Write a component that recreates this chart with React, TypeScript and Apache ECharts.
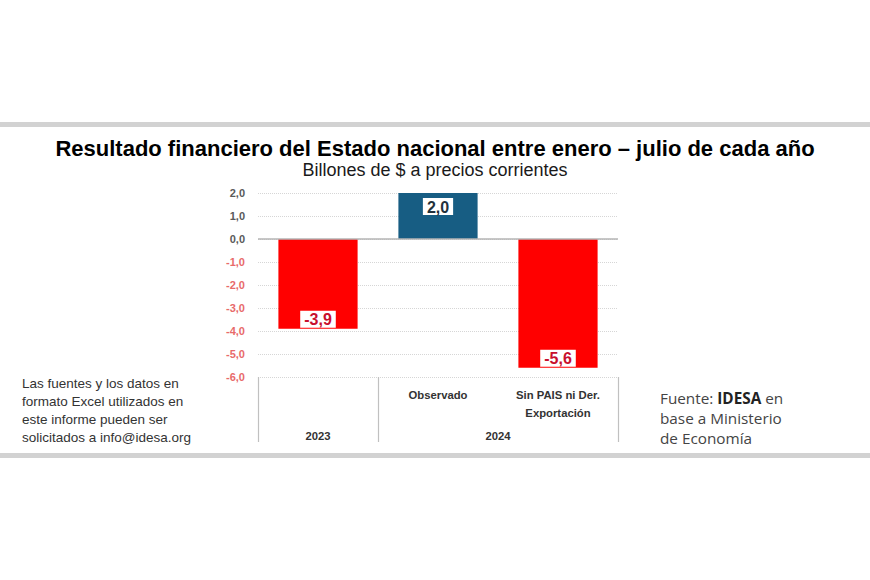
import React, { useEffect, useRef } from "react";
import * as echarts from "echarts";

const categories = ["", "Observado", "Sin PAIS ni Der.\nExportación"];
const values = [-3.9, 2.0, -5.6];
const barColors = ["#ff0000", "#175d83", "#ff0000"];
const labelColors = ["#c8102e", "#23313c", "#c8102e"];
const groupPoints = ["", "2023", "", "", "2024", "", ""];
const groupTickIdx = [0, 2, 6];
const zeroLine = [0];

const titleText = "Resultado financiero del Estado nacional entre enero – julio de cada año";
const subtitleText = "Billones de $ a precios corrientes";
const leftNote = "Las fuentes y los datos en\nformato Excel utilizados en\neste informe pueden ser\nsolicitados a info@idesa.org";

const fmt = (v: number) => v.toFixed(1).replace(".", ",");

export default function App() {
  const ref = useRef<HTMLDivElement>(null);
  useEffect(() => {
    if (!ref.current) return;
    const chart = echarts.init(ref.current, null, { renderer: "svg" });
    chart.setOption({
      animation: false,
      backgroundColor: "#ffffff",
      title: {
        left: "center",
        top: 132,
        text: titleText,
        textStyle: { fontFamily: "Liberation Sans", fontSize: 22, fontWeight: "bold", color: "#000" },
        subtext: subtitleText,
        subtextStyle: { fontFamily: "Liberation Sans", fontSize: 18, color: "#1a1a1a" },
        itemGap: 2,
      },
      grid: { left: 258, right: 252, top: 193, bottom: 203 },
      xAxis: [
        {
          type: "category",
          data: categories,
          position: "bottom",
          axisLine: { show: false },
          axisTick: { show: false },
          axisLabel: {
            interval: 0,
            margin: 9,
            verticalAlign: "top",
            fontFamily: "Liberation Sans",
            fontSize: 11.3,
            fontWeight: "bold",
            color: "#333",
            lineHeight: 18,
          },
        },
        {
          type: "category",
          data: groupPoints,
          position: "bottom",
          boundaryGap: false,
          axisLine: { show: false },
          axisTick: {
            show: true,
            interval: (i: number) => groupTickIdx.includes(i),
            length: 65,
            lineStyle: { color: "#c0c0c0", width: 1.2 },
          },
          axisLabel: {
            interval: 0,
            margin: 53,
            verticalAlign: "top",
            fontFamily: "Liberation Sans",
            fontSize: 11.3,
            fontWeight: "bold",
            color: "#333",
          },
          splitLine: { show: false },
        },
      ],
      yAxis: {
        type: "value",
        min: -6,
        max: 2,
        interval: 1,
        axisLine: { show: false },
        axisTick: { show: false },
        axisLabel: {
          margin: 13,
          fontFamily: "Liberation Sans",
          fontSize: 11,
          fontWeight: "bold",
          formatter: (v: number) => fmt(v),
          color: (v: any) => (Number(v) < 0 ? "#e86a6a" : "#5a5a5a"),
        },
        splitLine: { show: true, lineStyle: { color: "#d6d6d6", type: "dotted", width: 1 } },
      },
      series: [
        {
          type: "bar",
          xAxisIndex: 0,
          barWidth: "66%",
          data: values.map((v, i) => ({
            value: v,
            itemStyle: { color: barColors[i] },
            label: {
              show: true,
              position: v < 0 ? "insideBottom" : "insideTop",
              distance: v < 0 ? 1 : 5,
              formatter: () => fmt(v),
              color: labelColors[i],
              backgroundColor: "#ffffff",
              padding: [1, 4, 0, 4],
              fontFamily: "Liberation Sans",
              fontSize: 16,
              lineHeight: 16,
              fontWeight: "bold",
            },
          })),
          markLine: {
            silent: true,
            symbol: ["none", "none"],
            label: { show: false },
            lineStyle: { color: "#b5b5b5", type: "solid", width: 1.5 },
            data: zeroLine.map((y) => ({ yAxis: y })),
          },
        },
      ],
      graphic: [
        { type: "rect", left: 0, top: 122, shape: { width: 870, height: 5 }, style: { fill: "#d2d2d2" } },
        { type: "rect", left: 0, top: 453, shape: { width: 870, height: 5 }, style: { fill: "#d2d2d2" } },
        {
          type: "text",
          left: 22,
          top: 374,
          style: {
            text: leftNote,
            fontFamily: "Liberation Sans",
            fontSize: 13.5,
            lineHeight: 18,
            fill: "#333",
          },
        },
        {
          type: "text",
          left: 660,
          top: 390,
          style: {
            text: "{n|Fuente: }{b|IDESA}{n| en}\n{n|base a Ministerio}\n{n|de Economía}",
            rich: {
              n: { fontFamily: "Open Sans", fontSize: 15.3, lineHeight: 20, fill: "#444" },
              b: { fontFamily: "Open Sans", fontSize: 15.3, lineHeight: 20, fontWeight: "bold", fill: "#222" },
            },
          },
        },
      ],
    });
    return () => chart.dispose();
  }, []);
  return <div ref={ref} style={{ position: "fixed", left: 0, top: 0, width: 870, height: 580 }} />;
}
